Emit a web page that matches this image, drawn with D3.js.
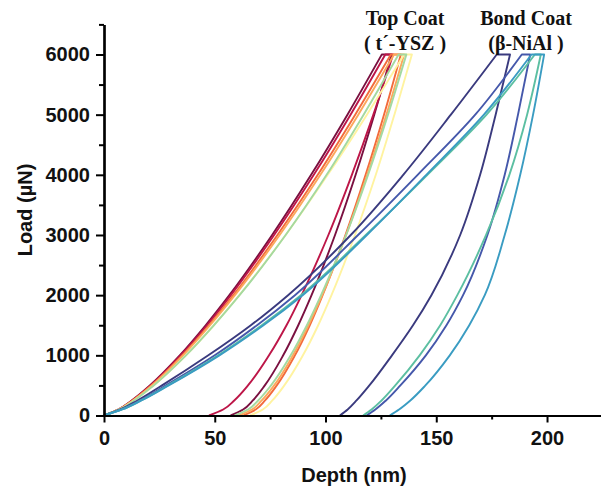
<!DOCTYPE html>
<html>
<head>
<meta charset="utf-8">
<script src="https://cdn.jsdelivr.net/npm/d3@7"></script>
<style>
  body { margin: 0; background: #fff; }
  svg { display: block; }
</style>
</head>
<body>
<svg id="chart" width="601" height="489"></svg>
<script>
// Load levels (µN) at which each depth value (nm) is given
const loadLevels = [0, 100, 250, 500, 1000, 1500, 2000, 3000, 4000, 5000, 6000];

// Top coat (t'-YSZ) indents: loading and unloading depths per load level
const topCoatColors = ["#7a1040", "#bd1648", "#f26b3c", "#fca85c", "#fff3a0", "#a4d9a0"];
const topCoatLoading = [
  [0, 6.4, 12.5, 20.7, 34.2, 45.9, 56.6, 75.9, 93.5, 109.9, 125.4],
  [0, 6.5, 12.7, 21.0, 34.6, 46.5, 57.3, 76.8, 94.7, 111.3, 127.0],
  [0, 6.7, 12.9, 21.4, 35.3, 47.4, 58.4, 78.3, 96.5, 113.4, 129.5],
  [0, 6.7, 13.1, 21.6, 35.7, 47.9, 59.1, 79.3, 97.7, 114.8, 131.0],
  [0, 7.0, 13.5, 22.4, 37.0, 49.6, 61.1, 82.0, 101.0, 118.7, 135.5],
  [0, 7.0, 13.6, 22.4, 37.0, 49.6, 61.2, 82.0, 100.5, 117.2, 133.0]
];
const topCoatUnloading = [
  [57.2, 62.8, 67.2, 72.6, 80.9, 87.7, 93.7, 104.3, 113.6, 122.0, 129.8],
  [47.4, 53.8, 58.8, 65.0, 74.5, 82.4, 89.2, 101.3, 111.9, 121.6, 130.5],
  [63.0, 68.5, 72.7, 78.0, 86.2, 92.9, 98.7, 109.0, 118.1, 126.4, 134.0],
  [61.0, 66.8, 71.2, 76.8, 85.3, 92.3, 98.5, 109.3, 118.8, 127.5, 135.5],
  [66.0, 71.7, 76.0, 81.4, 89.8, 96.7, 102.7, 113.3, 122.7, 131.1, 139.0],
  [59.0, 65.0, 69.6, 75.4, 84.3, 91.6, 98.0, 109.3, 119.2, 128.2, 136.5]
];

// Bond coat (β-NiAl) indents
const bondCoatColors = ["#3a3a7e", "#4558ab", "#5cbfa2", "#3a9cc2"];
const bondCoatLoading = [
  [0, 7.3, 15.1, 26.2, 47.1, 66.3, 83.1, 111.4, 135.1, 156.6, 177.3],
  [0, 7.8, 16.2, 27.9, 50.0, 69.1, 86.2, 114.7, 141.6, 167.6, 188.6],
  [0, 8.1, 16.7, 28.8, 51.5, 71.2, 88.9, 118.2, 146.0, 172.7, 194.5],
  [0, 8.2, 16.9, 29.2, 52.1, 72.0, 89.7, 118.7, 145.5, 171.5, 193.0]
];
const bondCoatUnloading = [
  [106.5, 110.0, 114.0, 119.8, 130.0, 139.5, 147.8, 160.8, 169.8, 176.8, 183.3],
  [118.5, 122.5, 127.3, 133.8, 145.3, 154.6, 162.1, 173.1, 180.9, 186.9, 192.4],
  [117.0, 120.8, 125.3, 131.5, 142.5, 151.8, 159.5, 172.5, 183.0, 191.0, 197.2],
  [129.0, 133.2, 138.3, 145.1, 156.1, 164.9, 171.9, 180.9, 187.9, 193.7, 198.7]
];

// Axis ticks
const xMajorTicks = [0, 50, 100, 150, 200];
const xMinorTicks = [25, 75, 125, 175, 225];
const yMajorTicks = [0, 1000, 2000, 3000, 4000, 5000, 6000];
const yMinorTicks = [500, 1500, 2500, 3500, 4500, 5500, 6500];

const svg = d3.select("#chart");
const x = d3.scaleLinear().domain([0, 225]).range([104, 602.4]);
const y = d3.scaleLinear().domain([0, 6500]).range([415.5, 24.4]);

const sansFont = "'Liberation Sans', Arial, Helvetica, sans-serif";
const serifFont = "'Liberation Serif', 'Times New Roman', serif";

// One indent cycle: loading branch, hold at peak load, unloading branch
const branch = d3.line()
  .x(d => x(d[0]))
  .y(d => y(d[1]))
  .curve(d3.curveMonotoneY);

function cyclePath(loadDepths, unloadDepths) {
  const up = loadLevels.map((p, i) => [loadDepths[i], p]);
  const down = loadLevels.map((p, i) => [unloadDepths[i], p]).reverse();
  return branch(up) + branch(down).replace(/^M/, "L");
}

const curves = svg.append("g").attr("fill", "none")
  .attr("stroke-width", 1.9)
  .attr("stroke-linejoin", "round");

topCoatColors.forEach((c, i) => {
  curves.append("path")
    .attr("d", cyclePath(topCoatLoading[i], topCoatUnloading[i]))
    .attr("stroke", c);
});
bondCoatColors.forEach((c, i) => {
  curves.append("path")
    .attr("d", cyclePath(bondCoatLoading[i], bondCoatUnloading[i]))
    .attr("stroke", c);
});

// Axes
function styleAxis(g) {
  g.select(".domain").attr("stroke", "#000").attr("stroke-width", 2.2);
  g.selectAll(".tick line").attr("stroke", "#000").attr("stroke-width", 2);
  g.selectAll(".tick text")
    .attr("fill", "#111")
    .style("font-family", sansFont)
    .style("font-weight", "bold")
    .style("font-size", "20px");
}

const plain = d3.format("d");

svg.append("g")
  .attr("transform", "translate(0,415.5)")
  .call(d3.axisBottom(x).tickValues(xMinorTicks).tickSize(4).tickSizeOuter(0).tickFormat(""))
  .call(styleAxis);
svg.append("g")
  .attr("transform", "translate(0,415.5)")
  .call(d3.axisBottom(x).tickValues(xMajorTicks).tickSize(7).tickSizeOuter(0).tickPadding(8).tickFormat(plain))
  .call(styleAxis);

svg.append("g")
  .attr("transform", "translate(104,0)")
  .call(d3.axisLeft(y).tickValues(yMinorTicks).tickSize(5).tickSizeOuter(0).tickFormat(""))
  .call(styleAxis);
svg.append("g")
  .attr("transform", "translate(104,0)")
  .call(d3.axisLeft(y).tickValues(yMajorTicks).tickSize(8).tickSizeOuter(0).tickPadding(6).tickFormat(plain))
  .call(styleAxis);

// Axis titles
svg.append("text")
  .attr("x", 354).attr("y", 482)
  .attr("text-anchor", "middle")
  .style("font-family", sansFont).style("font-weight", "bold").style("font-size", "20px")
  .attr("fill", "#111")
  .text("Depth (nm)");

svg.append("text")
  .attr("transform", "translate(32,210) rotate(-90)")
  .attr("text-anchor", "middle")
  .style("font-family", sansFont).style("font-weight", "bold").style("font-size", "20px")
  .attr("fill", "#111")
  .text("Load (µN)");

// Coating annotations
const notes = [
  { cx: 405, lines: ["Top Coat", "( t´-YSZ )"] },
  { cx: 526, lines: ["Bond Coat", "(β-NiAl )"] }
];
notes.forEach(n => {
  n.lines.forEach((t, j) => {
    svg.append("text")
      .attr("x", n.cx).attr("y", 25 + j * 24.5)
      .attr("text-anchor", "middle")
      .style("font-family", serifFont).style("font-weight", "bold").style("font-size", "20px")
      .attr("fill", "#111")
      .text(t);
  });
});
</script>
</body>
</html>
